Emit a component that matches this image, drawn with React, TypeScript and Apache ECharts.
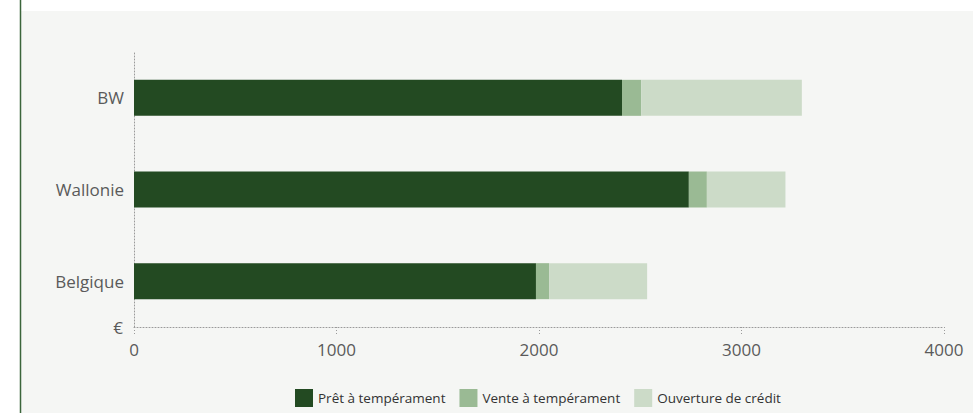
import React, { useEffect, useRef } from "react";
import * as echarts from "echarts";

const categories = ["Belgique", "Wallonie", "BW"];
const seriesNames = ["Prêt à tempérament", "Vente à tempérament", "Ouverture de crédit"];
const pretValues = [1985, 2740, 2410];
const venteValues = [65, 89, 95];
const ouvertureValues = [484, 388, 793];
const xTicks = [0, 1000, 2000, 3000, 4000];
const colors = ["#234a22", "#9aba94", "#ccdbc8"];

const FONT = "'Open Sans', sans-serif";
const DOT = [1, 2];

export default function App() {
  const ref = useRef<HTMLDivElement>(null);
  useEffect(() => {
    if (!ref.current) return;
    const chart = echarts.init(ref.current, undefined, { renderer: "svg" });
    const values = [pretValues, venteValues, ouvertureValues];
    chart.setOption({
      animation: false,
      backgroundColor: "#ffffff",
      textStyle: { fontFamily: FONT },
      graphic: [
        {
          type: "rect",
          shape: { x: 21, y: 11, width: 952, height: 402 },
          style: { fill: "#f5f6f4" },
          z: -10,
          silent: true,
        },
        {
          type: "line",
          shape: { x1: 20.5, y1: 0, x2: 20.5, y2: 413 },
          style: { stroke: "#3b653b", lineWidth: 1.5 },
          z: -9,
          silent: true,
        },
      ],
      grid: { left: 134, right: 29, top: 52, bottom: 86, containLabel: false },
      legend: {
        left: 290,
        top: 384,
        itemWidth: 18,
        itemHeight: 18,
        itemGap: 14,
        icon: "rect",
        textStyle: { fontFamily: FONT, fontSize: 13.5, color: "#333333" },
        data: seriesNames,
      },
      xAxis: {
        type: "value",
        min: xTicks[0],
        max: xTicks[xTicks.length - 1],
        interval: 1000,
        name: "€",
        nameLocation: "start",
        nameGap: 11,
        nameTextStyle: { fontFamily: FONT, fontSize: 17, color: "#5a5a5a", verticalAlign: "middle" },
        axisLine: { show: true, lineStyle: { color: "#9a9a9a", type: DOT, width: 1 } },
        axisTick: { show: true, length: 8, lineStyle: { color: "#9a9a9a", type: DOT } },
        axisLabel: {
          fontFamily: FONT,
          fontSize: 17,
          color: "#5a5a5a",
          margin: 14,
          formatter: (v: number) => String(v),
        },
        splitLine: { show: false },
      },
      yAxis: {
        type: "category",
        data: categories,
        axisLine: { show: true, lineStyle: { color: "#9a9a9a", type: DOT, width: 1 } },
        axisTick: { show: false },
        axisLabel: { fontFamily: FONT, fontSize: 17, color: "#5a5a5a", margin: 10 },
      },
      series: seriesNames.map((name, i) => ({
        name,
        type: "bar",
        stack: "total",
        barWidth: 36,
        data: values[i],
        itemStyle: { color: colors[i] },
        emphasis: { disabled: true },
      })),
    });
    return () => chart.dispose();
  }, []);
  return (
    <div style={{ position: "fixed", left: 0, top: 0, width: 973, height: 413 }}>
      <div ref={ref} style={{ width: 973, height: 413 }} />
    </div>
  );
}
